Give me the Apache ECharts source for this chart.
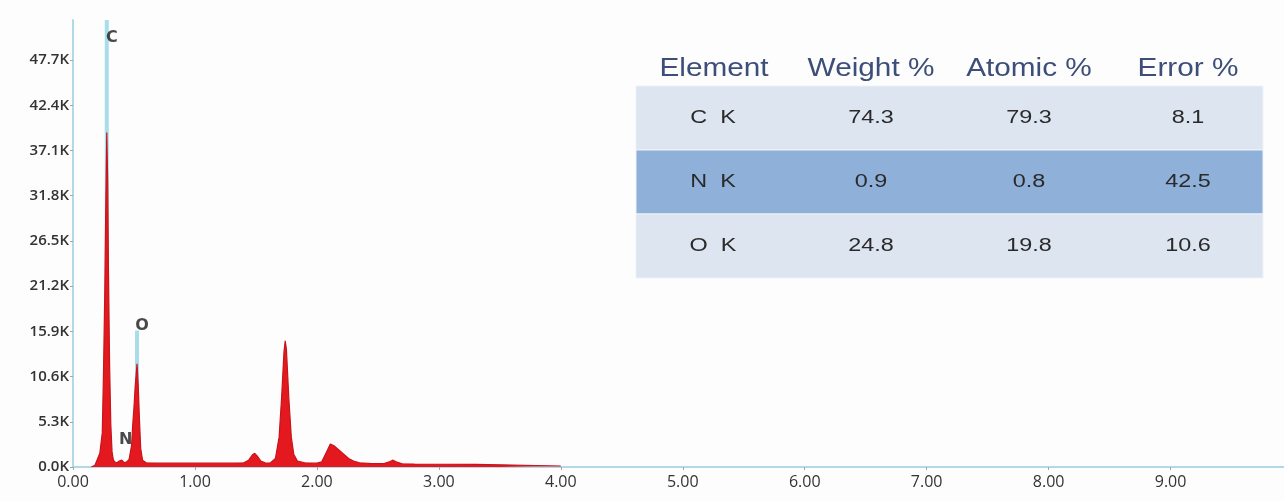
<!DOCTYPE html>
<html>
<head>
<meta charset="utf-8">
<script src="https://cdn.jsdelivr.net/npm/echarts@6/dist/echarts.min.js"></script>
<style>
html,body{margin:0;padding:0;background:#fdfdfd;}
#c{width:1284px;height:502px;}
</style>
</head>
<body>
<div id="c"></div>
<script>
// Spectrum (energy keV, counts)
const energies = [0.15,0.18,0.20,0.22,0.24,0.25,0.26,0.27,0.277,0.285,0.29,0.30,0.31,0.32,0.33,0.34,0.36,0.38,0.39,0.40,0.42,0.44,0.46,0.48,0.49,0.50,0.51,0.525,0.535,0.545,0.555,0.57,0.60,0.70,0.80,0.90,1.00,1.10,1.20,1.30,1.40,1.44,1.47,1.49,1.51,1.54,1.58,1.62,1.66,1.69,1.71,1.73,1.74,1.75,1.77,1.79,1.81,1.84,1.90,2.00,2.04,2.08,2.11,2.14,2.18,2.22,2.26,2.30,2.35,2.45,2.55,2.60,2.625,2.65,2.70,2.80,3.00,3.30,3.50,4.00];
const counts   = [0,200,900,1600,4000,11000,20000,32000,39200,33000,24000,12000,5000,1800,900,600,500,700,900,800,500,600,900,2500,5000,7000,9500,12100,9500,5500,2200,800,500,450,450,450,450,450,450,450,500,800,1400,1600,1300,700,450,500,1000,3500,8000,13500,14800,13800,8000,3500,1500,700,500,450,600,1800,2700,2500,2000,1500,1000,700,500,400,400,650,800,600,380,350,320,300,260,120];

// Element marker lines
const elementNames = ['C','N','O'];
const elementEnergies = [0.277,0.392,0.525];
const markerTops = [52400,0,16000];
const labelHeights = [50300,3200,16600];

// Axis ticks
const yInterval = 5300;
const yMax = 52400;
const xInterval = 1;
const xMax = 9.93;

// Quantification table
const tableHeaders = ['Element','Weight %','Atomic %','Error %'];
const tableElements = ['C  K','N  K','O  K'];
const weightPct = ['74.3','0.9','24.8'];
const atomicPct = ['79.3','0.8','19.8'];
const errorPct = ['8.1','42.5','10.6'];

const spectrum = energies.map((e,i)=>[e,counts[i]]);
const markerData = [];
elementEnergies.forEach((e,i)=>{
  if (markerTops[i] > 0) {
    markerData.push([e,0]); markerData.push([e,markerTops[i]]); markerData.push('-');
  }
});
const labelData = elementEnergies.map((e,i)=>({value:[e,labelHeights[i]], name:elementNames[i]}));

// table graphics
const tblLeft = 636, tblRight = 1263, rowTop = 86, rowH = 64;
const colX = [714, 871, 1029, 1188];
const graphics = [];
tableHeaders.forEach((h,j)=>{
  graphics.push({type:'text', x:colX[j], y:69, scaleX:1.19, style:{text:h, fill:'#3d4f79', font:'25px "Liberation Sans", Arial, sans-serif', align:'center', verticalAlign:'middle'}});
});
const rowColors = ['#dde5f0','#8fb0d8','#dde5f0'];
tableElements.forEach((el,i)=>{
  graphics.push({type:'rect', shape:{x:tblLeft, y:rowTop+i*rowH, width:tblRight-tblLeft, height:rowH}, style:{fill:rowColors[i], stroke:'#eef2f8', lineWidth:1}});
  const vals = [el, weightPct[i], atomicPct[i], errorPct[i]];
  vals.forEach((v,j)=>{
    graphics.push({type:'text', x:colX[j]-(j===0?1:0), y:rowTop+i*rowH+rowH/2, z:10, scaleX:1.3, style:{text:v, fill:'#2a2a2a', font:'18px "Liberation Sans", Arial, sans-serif', align:'center', verticalAlign:'middle'}});
  });
});

const chart = echarts.init(document.getElementById('c'));
chart.setOption({
  backgroundColor:'#fdfdfd',
  animation:false,
  grid:{left:73, right:0, top:20, bottom:35},
  xAxis:{
    type:'value', min:0, max:xMax, interval:xInterval,
    axisLine:{show:true, lineStyle:{color:'#b3d9e6', width:2}},
    axisTick:{show:true, length:3, lineStyle:{color:'#9aa'}},
    splitLine:{show:false},
    axisLabel:{showMaxLabel:false, formatter:v=>v.toFixed(2), color:'#333', fontSize:16, fontFamily:'"Open Sans", sans-serif', margin:7}
  },
  yAxis:{
    type:'value', min:0, max:yMax, interval:yInterval,
    axisLine:{show:true, lineStyle:{color:'#b3d9e6', width:2}},
    axisTick:{show:true, length:3, lineStyle:{color:'#9aa'}},
    splitLine:{show:false},
    axisLabel:{showMaxLabel:false, formatter:v=>(v/1000).toFixed(1)+'K', color:'#333', fontSize:15, fontWeight:600, fontFamily:'"Open Sans", sans-serif', margin:4}
  },
  series:[
    {type:'line', z:1, data:markerData, symbol:'none', connectNulls:false,
      lineStyle:{color:'#a9dde9', width:4}, silent:true},
    {type:'line', z:2, data:spectrum, symbol:'none', smooth:false,
      lineStyle:{color:'#c8141a', width:1.2}, areaStyle:{color:'#e3191f', opacity:1}},
    {type:'scatter', z:3, data:labelData, symbolSize:0,
      label:{show:true, formatter:p=>p.name, position:'inside', offset:[5,0], color:'#1a1a1a', fontWeight:'bold', fontSize:16, fontFamily:'"DejaVu Sans", sans-serif'}}
  ],
  graphic:graphics
});
</script>
</body>
</html>
